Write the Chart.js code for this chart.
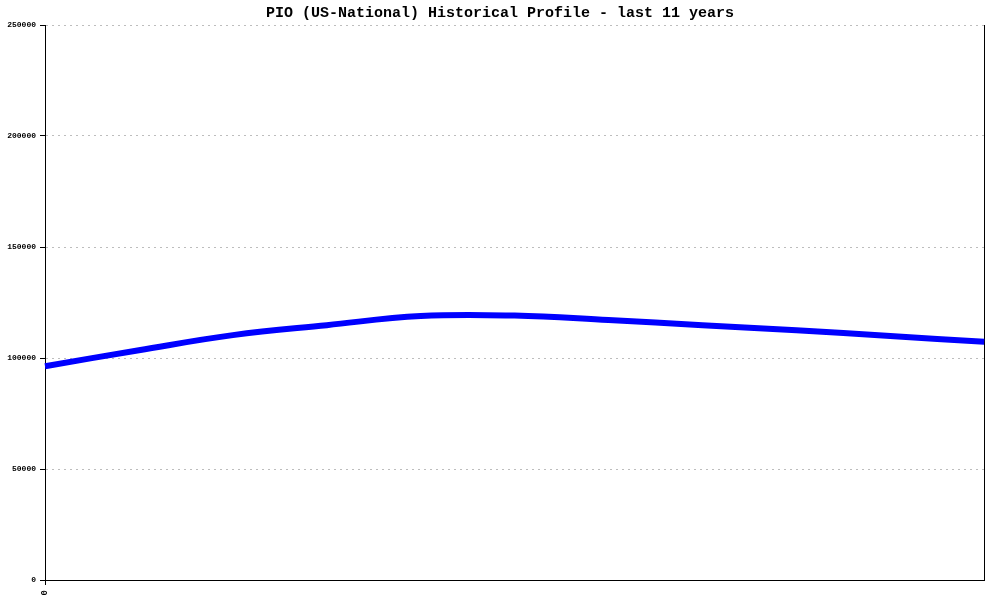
<!DOCTYPE html>
<html>
<head>
<meta charset="utf-8">
<script src="https://cdn.jsdelivr.net/npm/chart.js@4/dist/chart.umd.min.js"></script>
<style>
html,body{margin:0;padding:0;background:#fff;}
#wrap{width:1000px;height:600px;}
</style>
</head>
<body>
<div id="wrap"><canvas id="c" width="1000" height="600"></canvas></div>
<script>
const titleText = 'PIO (US-National) Historical Profile - last 11 years';
const xLabels = ['0', '', '', '', '', '', '', '', '', '', ''];
const pioValues = [96300, 103500, 110300, 114800, 118900, 119100, 117100, 114800, 112500, 109900, 107300];
const yTicks = [0, 50000, 100000, 150000, 200000, 250000];

const mono = "'Liberation Mono', 'DejaVu Sans Mono', monospace";

new Chart(document.getElementById('c'), {
  type: 'line',
  data: {
    labels: xLabels,
    datasets: [{
      data: pioValues,
      borderColor: '#0000ff',
      backgroundColor: '#0000ff',
      borderWidth: 6,
      pointRadius: 0,
      tension: 0.4,
      fill: false
    }]
  },
  options: {
    responsive: false,
    animation: false,
    layout: { padding: 0 },
    plugins: {
      legend: { display: false },
      tooltip: { enabled: false },
      title: {
        display: true,
        text: titleText,
        color: '#000',
        font: { family: mono, size: 15, weight: 'bold', lineHeight: 1.2 },
        padding: { top: 4, bottom: 3 }
      }
    },
    scales: {
      x: {
        type: 'category',
        offset: false,
        grid: {
          drawOnChartArea: false,
          tickLength: 5,
          tickColor: (ctx) => ctx.index === 0 ? '#000' : 'rgba(0,0,0,0)'
        },
        border: { display: true, color: '#000', width: 1 },
        ticks: {
          autoSkip: false,
          maxRotation: 90,
          minRotation: 90,
          padding: 5,
          color: '#000',
          font: { family: mono, size: 9, weight: 'bold' }
        },
        afterFit: (s) => { s.height = 20; }
      },
      y: {
        min: 0,
        max: 250000,
        afterBuildTicks: (s) => { s.ticks = yTicks.map(v => ({ value: v })); },
        grid: {
          color: '#bdbdbd',
          lineWidth: 1,
          tickLength: 5,
          tickColor: '#000',
          tickBorderDash: [],
          drawTicks: true
        },
        border: { display: true, color: '#000', width: 1, dash: [2, 4] },
        ticks: {
          padding: 4,
          color: '#000',
          font: { family: mono, size: 8, weight: 'bold' },
          callback: (v) => String(v)
        },
        afterFit: (s) => { s.width = 45; }
      },
      y2: {
        position: 'right',
        min: 0,
        max: 250000,
        grid: { display: false, drawOnChartArea: false },
        border: { display: true, color: '#000', width: 1 },
        ticks: { display: false },
        afterFit: (s) => { s.width = 15; }
      }
    }
  }
});
</script>
</body>
</html>
